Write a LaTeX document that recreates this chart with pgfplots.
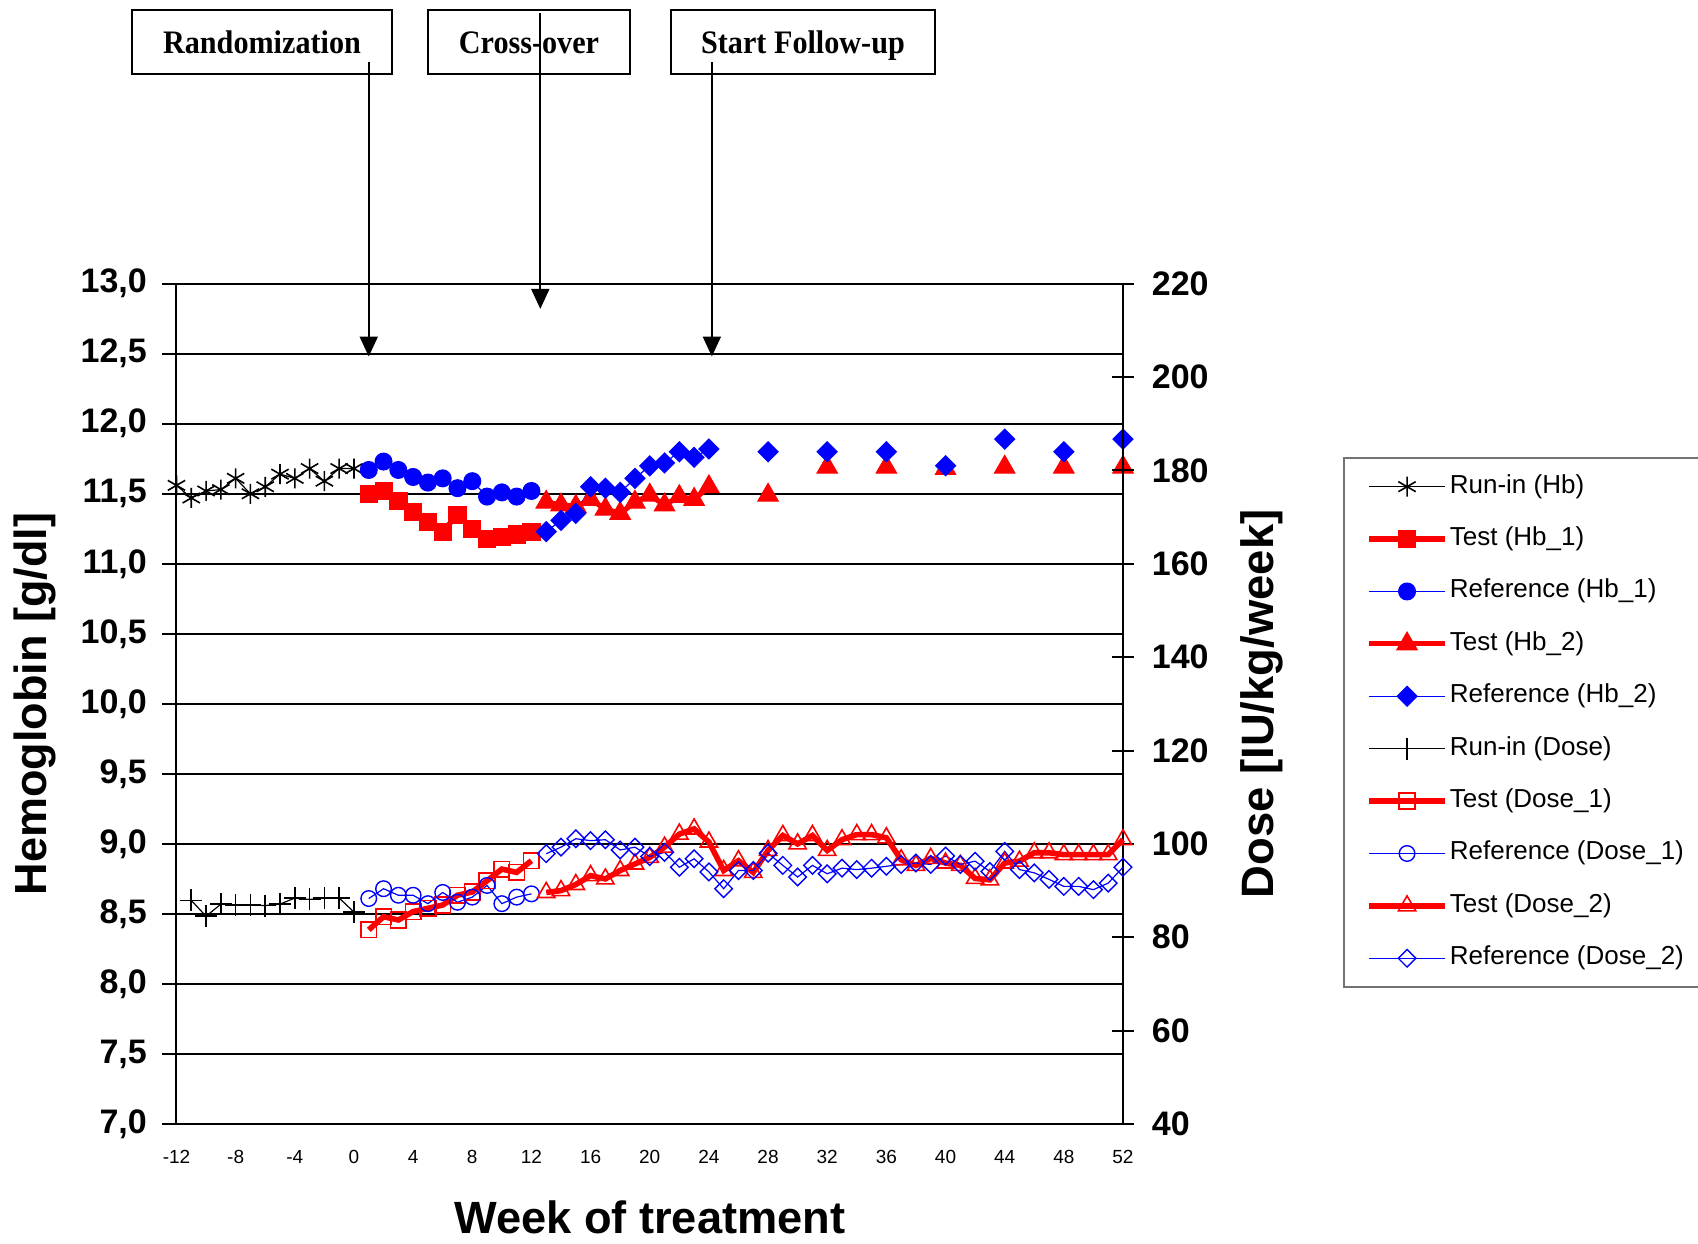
\documentclass[border=0pt]{standalone}
\usepackage{fontspec}
\setmainfont{Liberation Sans}
\newfontfamily\boxfont{Liberation Serif}[FakeStretch=0.92]
\usepackage{pgfplots}
\pgfplotsset{compat=1.18}
\usetikzlibrary{arrows.meta}

\pgfplotsset{
 runinhb/.style={black, line width=0.6pt, mark=asterisk, mark size=5pt, mark options={line width=0.8pt}},
 testhbone/.style={red, line width=2.6pt, mark=square*, mark size=4.3pt, mark options={line width=0.4pt}},
 refhbone/.style={blue, line width=0.6pt, mark=*, mark size=4.2pt},
 testhbtwo/.style={red, line width=2.6pt, mark=triangle*, mark size=6pt, mark options={line width=0.4pt}},
 refhbtwo/.style={blue, line width=0.6pt, mark=square*, mark size=3.5pt, mark options={rotate=45}},
 runindose/.style={black, line width=0.6pt, mark=+, mark size=5.5pt, mark options={line width=0.8pt}},
 testdoseone/.style={red, line width=2.8pt, mark=square, mark size=3.9pt, mark options={line width=0.8pt}},
 refdoseone/.style={blue, line width=0.6pt, mark=o, mark size=3.9pt, mark options={line width=0.7pt}},
 testdosetwo/.style={red, line width=2.8pt, mark=triangle, mark size=5pt, mark options={line width=0.8pt}},
 refdosetwo/.style={blue, line width=0.6pt, mark=square, mark size=3.1pt, mark options={line width=0.7pt, rotate=45}},
}

\begin{document}
\begin{tikzpicture}
\path[use as bounding box] (0pt,0pt) rectangle (849pt,621.5pt);

% ---------------- Hemoglobin axis ----------------
\begin{axis}[
  at={(88.25pt,59.5pt)}, anchor=south west,
  width=473.25pt, height=420.15pt, scale only axis,
  xmin=-12, xmax=52, ymin=7, ymax=13,
  xtick={-12,-8,...,52},
  ytick={7,7.5,8,8.5,9,9.5,10,10.5,11,11.5,12,12.5,13},
  ymajorgrids, major grid style={black, line width=1pt},
  axis line style={black, line width=1pt},
  ytick pos=left, xtick pos=bottom,
  tick align=outside, major tick length=7pt,
  ytick style={black, line width=1pt},
  xtick style={draw=none},
  /pgf/number format/assume math mode=true,
  yticklabel style={font=\fontsize{17}{17}\selectfont\bfseries, xshift=-4.3pt, /pgf/number format/.cd, fixed, fixed zerofill, precision=1, use comma},
  xticklabel style={font=\fontsize{9.5}{9.5}\selectfont, yshift=-2.7pt},
  ylabel={Hemoglobin [g/dl]},
  ylabel style={font=\fontsize{22.5}{22.5}\selectfont\bfseries, at={(axis description cs:-0.1500,0.5)}, anchor=center},
  xlabel={Week of treatment},
  xlabel style={font=\fontsize{22.6}{22.6}\selectfont\bfseries, at={(axis description cs:0.5,-0.1309)}, anchor=base},
  clip=false,
  unbounded coords=jump,
]
% Run-in (Hb)
\addplot[runinhb] coordinates {
(-12,11.56) (-11,11.47) (-10,11.52) (-9,11.53) (-8,11.61) (-7,11.50) (-6,11.55)
(-5,11.64) (-4,11.61) (-3,11.68) (-2,11.59) (-1,11.68) (0,11.68)};
% Test (Hb_1)
\addplot[testhbone] coordinates {
(1,11.50) (2,11.52) (3,11.45) (4,11.37) (5,11.30) (6,11.23) (7,11.35) (8,11.25)
(9,11.18) (10,11.19) (11,11.21) (12,11.23)};
% Reference (Hb_1)
\addplot[refhbone] coordinates {
(1,11.67) (2,11.73) (3,11.67) (4,11.62) (5,11.58) (6,11.61) (7,11.54) (8,11.59)
(9,11.48) (10,11.51) (11,11.48) (12,11.52)};
% Test (Hb_2)
\addplot[testhbtwo] coordinates {
(13,11.44) (14,11.42) (15,11.41) (16,11.46) (17,11.39) (18,11.36) (19,11.44) (20,11.49)
(21,11.42) (22,11.48) (23,11.46) (24,11.55) (26,nan) (28,11.49) (30,nan) (32,11.69) (34,nan)
(36,11.69) (38,nan) (40,11.68) (42,nan) (44,11.69) (46,nan) (48,11.69) (50,nan) (52,11.69)};
% Reference (Hb_2)
\addplot[refhbtwo] coordinates {
(13,11.23) (14,11.31) (15,11.36) (16,11.55) (17,11.54) (18,11.51) (19,11.61) (20,11.70)
(21,11.72) (22,11.80) (23,11.76) (24,11.82) (26,nan) (28,11.80) (30,nan) (32,11.80) (34,nan)
(36,11.80) (38,nan) (40,11.70) (42,nan) (44,11.89) (46,nan) (48,11.80) (50,nan) (52,11.89)};

% event arrows
\draw[black, line width=1pt, -{Triangle[width=9pt,length=10pt]}] (axis cs:1,14.58) -- (axis cs:1,12.48);
\draw[black, line width=1pt, -{Triangle[width=9pt,length=10pt]}] (axis cs:12.6,14.93) -- (axis cs:12.6,12.82);
\draw[black, line width=1pt, -{Triangle[width=9pt,length=10pt]}] (axis cs:24.2,14.58) -- (axis cs:24.2,12.48);
\end{axis}

% ---------------- Dose axis ----------------
\begin{axis}[
  at={(88.25pt,59.5pt)}, anchor=south west,
  width=473.25pt, height=420.15pt, scale only axis,
  xmin=-12, xmax=52, ymin=40, ymax=220,
  axis y line*=right, axis x line=none,
  ytick={40,60,80,100,120,140,160,180,200,220},
  tick align=center, major tick length=11pt,
  ytick style={black, line width=1pt},
  axis line style={black, line width=1pt},
  /pgf/number format/assume math mode=true,
  yticklabel style={font=\fontsize{17}{17}\selectfont\bfseries, xshift=5.4pt},
  ylabel={Dose [IU/kg/week]},
  ylabel style={font=\fontsize{22.7}{22.7}\selectfont\bfseries, at={(axis description cs:1.1470,0.5)}, anchor=center},
  clip=false,
  legend cell align=left,
  legend image code/.code={\draw[mark repeat=2,mark phase=2,#1] plot coordinates {(0pt,0pt) (19pt,0pt) (38pt,0pt)};},
  legend style={at={(1.2325,0.7938)}, anchor=north west, draw=black!55, line width=1.2pt, fill=white,
    font=\fontsize{13}{13}\selectfont, row sep=11.7pt, inner xsep=11pt, inner ysep=7pt,
    nodes={inner sep=1pt, text height=9.5pt, text depth=3pt}},
]
\addlegendimage{runinhb}\addlegendentry{Run-in (Hb)}
\addlegendimage{testhbone}\addlegendentry{Test (Hb\_1)}
\addlegendimage{refhbone}\addlegendentry{Reference (Hb\_1)}
\addlegendimage{testhbtwo}\addlegendentry{Test (Hb\_2)}
\addlegendimage{refhbtwo}\addlegendentry{Reference (Hb\_2)}
% Run-in (Dose)
\addplot[runindose] coordinates {
(-11,87.9) (-10,84.5) (-9,87.1) (-8,86.9) (-7,86.9) (-6,86.8) (-5,87.1) (-4,88.4)
(-3,88.1) (-2,88.4) (-1,88.4) (0,85.4)};
\addlegendentry{Run-in (Dose)}
% Test (Dose_1)
\addplot[testdoseone] coordinates {
(1,81.6) (2,84.4) (3,83.7) (4,85.5) (5,86.2) (6,86.9) (7,89.0) (8,89.7)
(9,92.1) (10,94.6) (11,93.9) (12,96.4)};
\addlegendentry{Test (Dose\_1)}
% Reference (Dose_1)
\addplot[refdoseone] coordinates {
(1,88.3) (2,90.4) (3,89.0) (4,89.0) (5,87.2) (6,89.6) (7,87.5) (8,88.6)
(9,91.1) (10,87.2) (11,88.6) (12,89.3)};
\addlegendentry{Reference (Dose\_1)}
% Test (Dose_2)
\addplot[testdosetwo] coordinates {
(13,89.6) (14,90.0) (15,91.3) (16,93.2) (17,92.5) (18,94.3) (19,95.7) (20,97.1)
(21,99.3) (22,102.1) (23,103.2) (24,100.4) (25,94.3) (26,96.4) (27,93.9) (28,98.6)
(29,101.8) (30,100.0) (31,101.8) (32,98.6) (33,100.9) (34,102.0) (35,102.0) (36,101.3)
(37,96.6) (38,95.4) (39,96.9) (40,95.9) (41,95.4) (42,92.6) (43,92.3) (44,95.9)
(45,96.3) (46,98.1) (47,98.1) (48,97.7) (49,97.7) (50,97.7) (51,97.7) (52,100.9)};
\addlegendentry{Test (Dose\_2)}
% Reference (Dose_2)
\addplot[refdosetwo] coordinates {
(13,97.9) (14,99.3) (15,101.1) (16,100.7) (17,100.9) (18,98.7) (19,99.3) (20,97.3)
(21,98.2) (22,95.0) (23,96.8) (24,94.0) (25,90.4) (26,94.3) (27,94.3) (28,98.0)
(29,95.4) (30,92.9) (31,95.4) (32,93.6) (33,94.8) (34,94.5) (35,94.8) (36,95.2)
(37,95.6) (38,95.9) (39,95.6) (40,97.4) (41,95.6) (42,96.3) (43,94.1) (44,98.4)
(45,94.5) (46,93.8) (47,92.4) (48,90.9) (49,90.9) (50,90.2) (51,91.6) (52,95.0)};
\addlegendentry{Reference (Dose\_2)}
\end{axis}

% ---------------- event boxes ----------------
\draw[black, line width=1pt] (66pt,584.5pt) rectangle (196pt,616.5pt);
\node[anchor=base, font=\boxfont\fontsize{16.4}{16.4}\selectfont\bfseries] at (131pt,594.5pt) {Randomization};
\draw[black, line width=1pt] (214pt,584.5pt) rectangle (315pt,616.5pt);
\node[anchor=base, font=\boxfont\fontsize{16.4}{16.4}\selectfont\bfseries] at (264.5pt,594.5pt) {Cross-over};
\draw[black, line width=1pt] (335.5pt,584.5pt) rectangle (467.5pt,616.5pt);
\node[anchor=base, font=\boxfont\fontsize{16.4}{16.4}\selectfont\bfseries] at (401.5pt,594.5pt) {Start Follow-up};
\end{tikzpicture}
\end{document}
